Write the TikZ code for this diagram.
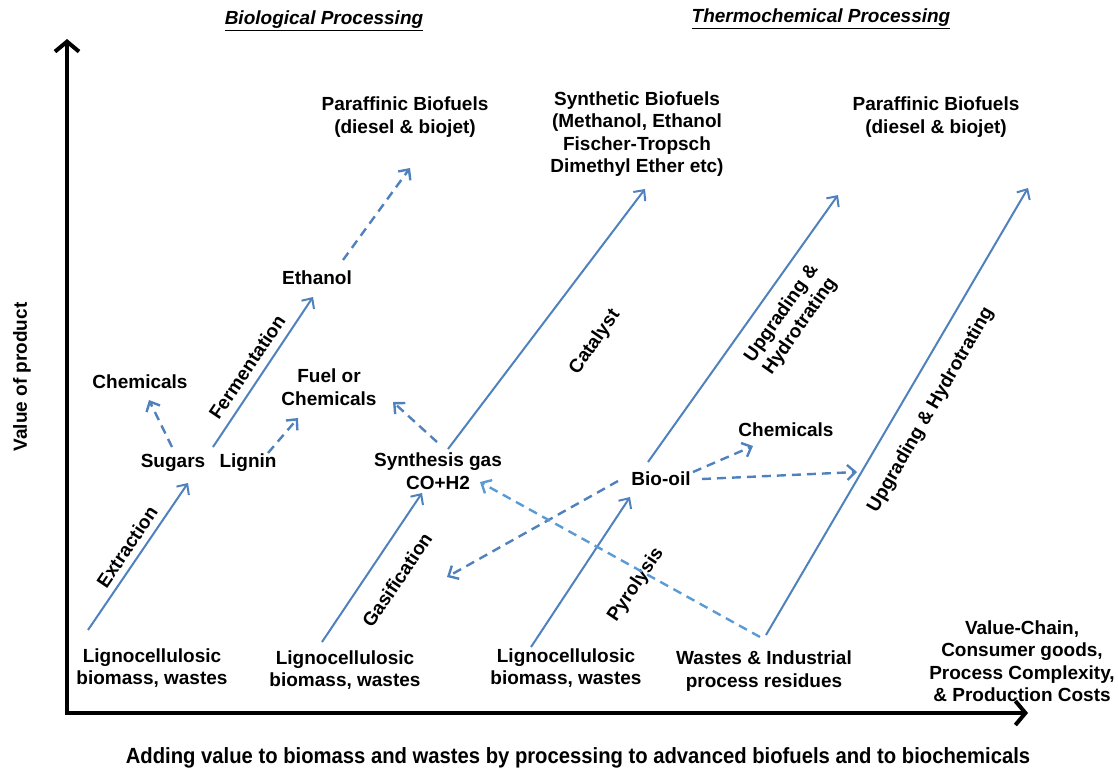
\documentclass[tikz,border=0pt]{standalone}
\usepackage{fontspec}
\setmainfont{Liberation Sans}
\usetikzlibrary{arrows.meta}

\definecolor{procblue}{RGB}{79,129,189}
\definecolor{wasteblue}{RGB}{91,155,213}

\begin{document}
\begin{tikzpicture}[x=1pt,y=-1pt,
    lbl/.style={font=\fontsize{19}{22.5}\selectfont\bfseries, align=center, inner sep=0pt},
    route/.style={procblue, line width=2pt, -{Straight Barb[length=8pt,width=15pt]}},
    side/.style={procblue, line width=2.4pt, dash pattern=on 9pt off 6pt, -{Straight Barb[length=8pt,width=15pt]}},
    axisline/.style={black, line width=4pt, {Straight Barb[length=10pt,width=24pt]}-{Straight Barb[length=10pt,width=24pt]}}]
        % page in pixels, y grows downward
        \useasboundingbox (0,0) rectangle (1118,771);

        % Axes
        \coordinate (top) at (67,39);
        \coordinate (O) at (67,713);
        \coordinate (right) at (1028,713);
        \draw[axisline] (top) -- (O) -- (right);

        % Titles and axis texts
        \node[lbl, font=\fontsize{19}{22.5}\selectfont\bfseries\itshape] (biotitle) at (324,21) {\underline{Biological Processing}};
        \node[lbl, font=\fontsize{19}{22.5}\selectfont\bfseries\itshape] (thermotitle) at (821,19) {\underline{Thermochemical Processing}};
        \node[lbl, rotate=90] (yname) at (22,377) {Value of product};
        \node[lbl, font=\fontsize{22}{26}\selectfont\bfseries] (caption) at (578,758) {\scalebox{0.92}[1]{Adding value to biomass and wastes by processing to advanced biofuels and to biochemicals}};
        \node[lbl] (valuechain) at (1022,661) {Value-Chain,\\Consumer goods,\\Process Complexity,\\\& Production Costs};

        % Feedstocks
        \node[lbl] (lig1) at (152,668) {Lignocellulosic\\biomass, wastes};
        \node[lbl] (lig2) at (345,670) {Lignocellulosic\\biomass, wastes};
        \node[lbl] (lig3) at (566,668) {Lignocellulosic\\biomass, wastes};
        \node[lbl] (wastes) at (764,671) {Wastes \& Industrial\\process residues};

        % Intermediates and products
        \node[lbl] (sugars) at (173,463) {Sugars};
        \node[lbl] (lignin) at (248,463) {Lignin};
        \node[lbl] (chemA) at (140,382) {Chemicals};
        \node[lbl] (fuelchem) at (329,387) {Fuel or\\Chemicals};
        \node[lbl] (ethanol) at (317,278) {Ethanol};
        \node[lbl] (parbio) at (405,117) {Paraffinic Biofuels\\(diesel \& biojet)};
        \node[lbl] (syngas) at (438,471) {Synthesis gas\\CO+H2};
        \node[lbl] (synbio) at (637,134) {Synthetic Biofuels\\(Methanol, Ethanol\\Fischer-Tropsch\\Dimethyl Ether etc)};
        \node[lbl] (biooil) at (661,479) {Bio-oil};
        \node[lbl] (chemB) at (786,430) {Chemicals};
        \node[lbl] (parthermo) at (936,117) {Paraffinic Biofuels\\(diesel \& biojet)};

        % Arrow ends
        \coordinate (ext0) at (88,630);   \coordinate (ext1) at (188,483);
        \coordinate (fer0) at (213,447);  \coordinate (fer1) at (313,297);
        \coordinate (gas0) at (322,642);  \coordinate (gas1) at (422,493);
        \coordinate (cat0) at (448,449);  \coordinate (cat1) at (645,189);
        \coordinate (pyr0) at (531,647);  \coordinate (pyr1) at (630,497);
        \coordinate (upA0) at (648,462);  \coordinate (upA1) at (838,195);
        \coordinate (upB0) at (766,635);  \coordinate (upB1) at (1028,188);

        % Main process routes
        \draw[route] (ext0) -- (ext1);
        \draw[route] (fer0) -- (fer1);
        \draw[route] (gas0) -- (gas1);
        \draw[route] (cat0) -- (cat1);
        \draw[route] (pyr0) -- (pyr1);
        \draw[route] (upA0) -- (upA1);
        \draw[route] (upB0) -- (upB1);

        % Process names
        \node[lbl, rotate=56] (extraction) at (127,547) {Extraction};
        \node[lbl, rotate=56] (fermentation) at (247,367) {Fermentation};
        \node[lbl, rotate=56] (gasification) at (397,580) {Gasification};
        \node[lbl, rotate=55] (catalyst) at (595,342) {Catalyst};
        \node[lbl, rotate=56] (pyrolysis) at (636,585) {Pyrolysis};
        \node[lbl, rotate=55] (upgradeA) at (791,320) {Upgrading \&\\Hydrotrating};
        \node[lbl, rotate=60] (upgradeB) at (931,410) {Upgrading \& Hydrotrating};

        % Side streams (dashed)
        \draw[side] (172,447) -- (149,400);
        \draw[side] (268,453) -- (298,418);
        \draw[side] (343,260) -- (410,168);
        \draw[side] (437,442) -- (393,402);
        \draw[side] (693,472) -- (753,446);
        \draw[side] (702,479) -- (857,472);
        \draw[side] (618,481) -- (447,577);
        \draw[side, wasteblue] (760,637) -- (480,482);
    \end{tikzpicture}
\end{document}
